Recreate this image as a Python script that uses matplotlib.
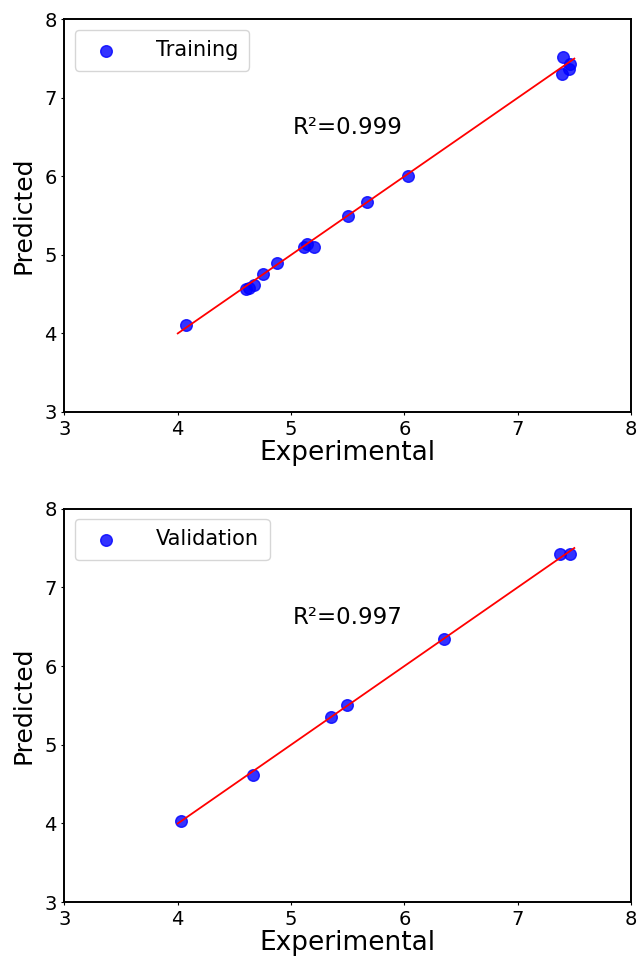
import matplotlib
matplotlib.use("Agg")
import matplotlib.pyplot as plt
import numpy as np

train_exp = [4.07, 4.60, 4.63, 4.67, 4.75, 4.88, 5.11, 5.14, 5.20, 5.50, 5.67, 6.03, 7.40, 7.39, 7.45, 7.46]
train_pred = [4.11, 4.56, 4.58, 4.62, 4.76, 4.90, 5.10, 5.14, 5.10, 5.49, 5.67, 6.00, 7.52, 7.30, 7.37, 7.43]
val_exp = [4.03, 4.66, 5.35, 5.49, 6.35, 7.37, 7.46]
val_pred = [4.03, 4.61, 5.35, 5.50, 6.35, 7.43, 7.43]
line_range = [4.0, 7.5]
ticks = [3, 4, 5, 6, 7, 8]

fig = plt.figure(figsize=(6.38, 9.67), dpi=100)
ax1 = fig.add_axes([0.101, 0.574, 0.888, 0.406])
ax2 = fig.add_axes([0.101, 0.067, 0.888, 0.407])

for ax, xs, ys, lab, r2 in [(ax1, train_exp, train_pred, "Training", "R²=0.999"),
                            (ax2, val_exp, val_pred, "Validation", "R²=0.997")]:
    ax.scatter(xs, ys, s=70, color="blue", alpha=0.8, label=lab, zorder=2)
    ax.plot(line_range, line_range, color="red", lw=1.3, zorder=3)
    ax.set_xlim(3, 8)
    ax.set_ylim(3, 8)
    ax.set_xticks(ticks)
    ax.set_yticks(ticks)
    ax.tick_params(labelsize=14, length=2.5, pad=3)
    for sp in ax.spines.values():
        sp.set_linewidth(1.4)
    ax.set_xlabel("Experimental", fontsize=19, labelpad=1)
    ax.set_ylabel("Predicted", fontsize=18, labelpad=6)
    ax.text(5.5, 6.62, r2, fontsize=16.5, ha="center", va="center")
    ax.legend(loc="upper left", fontsize=15, borderpad=0.5, handletextpad=1.4)

fig.savefig("out.png", dpi=100)
